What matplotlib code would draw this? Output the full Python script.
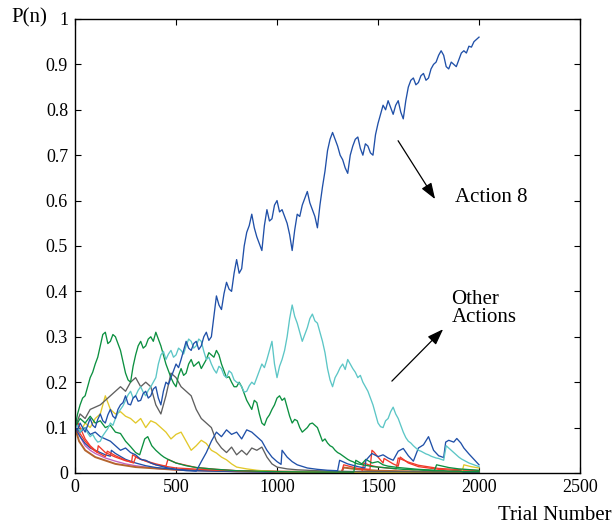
import matplotlib.pyplot as plt
import numpy as np

plt.rcParams['font.family'] = ['Liberation Serif', 'DejaVu Serif']

# trial grid for the long noisy curves (every 12.5 trials)
t_grid = np.arange(0, 2000.1, 12.5)

action8 = [0.10, 0.095, 0.11, 0.10, 0.09, 0.105, 0.12, 0.105, 0.10, 0.118,
           0.13, 0.115, 0.11, 0.128, 0.14, 0.125, 0.12, 0.14, 0.15, 0.155,
           0.17, 0.152, 0.15, 0.165, 0.17, 0.158, 0.16, 0.175, 0.18, 0.165,
           0.17, 0.185, 0.19, 0.165, 0.15, 0.18, 0.20, 0.195, 0.21, 0.225,
           0.24, 0.232, 0.25, 0.27, 0.29, 0.275, 0.27, 0.285, 0.29, 0.272,
           0.28, 0.30, 0.31, 0.292, 0.30, 0.345, 0.39, 0.37, 0.36, 0.395,
           0.42, 0.405, 0.40, 0.44, 0.47, 0.44, 0.45, 0.50, 0.53, 0.545,
           0.57, 0.54, 0.52, 0.505, 0.49, 0.545, 0.58, 0.555, 0.56, 0.59,
           0.60, 0.575, 0.58, 0.565, 0.55, 0.525, 0.49, 0.535, 0.57, 0.565,
           0.59, 0.605, 0.62, 0.595, 0.58, 0.565, 0.54, 0.59, 0.63, 0.665,
           0.71, 0.735, 0.75, 0.735, 0.72, 0.70, 0.69, 0.672, 0.66, 0.70,
           0.72, 0.735, 0.74, 0.715, 0.70, 0.725, 0.72, 0.705, 0.70, 0.745,
           0.77, 0.79, 0.81, 0.80, 0.82, 0.805, 0.79, 0.81, 0.82, 0.795,
           0.78, 0.82, 0.85, 0.865, 0.87, 0.855, 0.86, 0.875, 0.88, 0.865,
           0.87, 0.89, 0.90, 0.905, 0.92, 0.93, 0.92, 0.895, 0.89, 0.905,
           0.90, 0.895, 0.91, 0.925, 0.93, 0.925, 0.94, 0.938, 0.95, 0.955,
           0.96]

cyan = [0.10, 0.105, 0.09, 0.098, 0.10, 0.088, 0.08, 0.085, 0.075, 0.068,
        0.07, 0.082, 0.09, 0.098, 0.11, 0.105, 0.12, 0.132, 0.14, 0.148,
        0.16, 0.172, 0.18, 0.165, 0.17, 0.182, 0.19, 0.178, 0.17, 0.182,
        0.19, 0.20, 0.21, 0.24, 0.26, 0.268, 0.25, 0.262, 0.27, 0.255,
        0.26, 0.275, 0.27, 0.262, 0.28, 0.295, 0.29, 0.275, 0.28, 0.295,
        0.29, 0.268, 0.25, 0.255, 0.24, 0.228, 0.22, 0.235, 0.23, 0.215,
        0.21, 0.225, 0.22, 0.205, 0.20, 0.198, 0.19, 0.178, 0.18, 0.192,
        0.20, 0.195, 0.21, 0.225, 0.24, 0.232, 0.25, 0.27, 0.29, 0.24,
        0.21, 0.235, 0.25, 0.27, 0.30, 0.34, 0.37, 0.345, 0.33, 0.31,
        0.29, 0.305, 0.32, 0.34, 0.35, 0.335, 0.33, 0.31, 0.29, 0.265,
        0.23, 0.205, 0.19, 0.21, 0.22, 0.232, 0.24, 0.228, 0.25, 0.24,
        0.23, 0.222, 0.21, 0.215, 0.20, 0.19, 0.18, 0.165, 0.15, 0.13,
        0.11, 0.102, 0.10, 0.115, 0.12, 0.135, 0.145, 0.13, 0.12, 0.105,
        0.09, 0.078, 0.07, 0.066, 0.06, 0.055, 0.05, 0.048, 0.045, 0.042,
        0.04, 0.037, 0.035, 0.033, 0.032, 0.030, 0.028, 0.06, 0.055, 0.05,
        0.045, 0.04, 0.035, 0.031, 0.028, 0.025, 0.022, 0.02, 0.018, 0.016,
        0.014]

green_a = [0.10, 0.13, 0.15, 0.165, 0.17, 0.19, 0.21, 0.222, 0.24, 0.255,
           0.28, 0.305, 0.31, 0.285, 0.29, 0.305, 0.30, 0.285, 0.27, 0.245,
           0.22, 0.205, 0.20, 0.235, 0.26, 0.28, 0.29, 0.275, 0.28, 0.295,
           0.30, 0.29, 0.31, 0.295, 0.28, 0.26, 0.24, 0.225, 0.21, 0.198,
           0.19, 0.215, 0.23, 0.215, 0.22, 0.24, 0.25, 0.235, 0.24, 0.245,
           0.23, 0.24, 0.25, 0.265, 0.26, 0.255, 0.27, 0.26, 0.24, 0.225,
           0.21, 0.212, 0.20, 0.19, 0.19, 0.20, 0.19, 0.175, 0.16, 0.15,
           0.14, 0.16, 0.155, 0.13, 0.11, 0.105, 0.12, 0.128, 0.14, 0.15,
           0.165, 0.17, 0.16, 0.165, 0.145, 0.125, 0.11, 0.118, 0.115, 0.10,
           0.09, 0.095, 0.10, 0.108, 0.11, 0.105, 0.10, 0.085, 0.07, 0.075,
           0.066, 0.06, 0.057, 0.05, 0.045, 0.042, 0.038, 0.034, 0.03, 0.027,
           0.025, 0.022, 0.02, 0.019, 0.018, 0.017, 0.016, 0.015, 0.014, 0.0135,
           0.013, 0.0125, 0.012, 0.0115, 0.011, 0.0105, 0.01, 0.0095, 0.009, 0.0085,
           0.008, 0.008, 0.008, 0.0075, 0.007, 0.007, 0.007, 0.0065, 0.006, 0.006,
           0.006, 0.0055, 0.005, 0.005, 0.005, 0.005, 0.005, 0.0045, 0.004, 0.004,
           0.004, 0.004, 0.004, 0.0035, 0.003, 0.003, 0.003, 0.003, 0.003, 0.003,
           0.003]

gray_t = [0, 25, 50, 75, 100, 125, 150, 175, 200, 225, 250, 275, 300, 325,
          350, 375, 400, 425, 450, 475, 500, 525, 550, 575, 600, 625, 650,
          675, 700, 725, 750, 775, 800, 825, 850, 875, 900, 925, 950, 975,
          1000, 1050, 1100, 1200, 1300, 1400, 1600, 1800, 2000]
gray = [0.10, 0.13, 0.12, 0.14, 0.145, 0.15, 0.16, 0.17, 0.18, 0.19,
        0.18, 0.20, 0.21, 0.19, 0.20, 0.19, 0.15, 0.13, 0.17, 0.22,
        0.21, 0.19, 0.18, 0.17, 0.14, 0.12, 0.11, 0.10, 0.07, 0.055,
        0.045, 0.057, 0.04, 0.05, 0.04, 0.055, 0.05, 0.057, 0.035, 0.02,
        0.013, 0.009, 0.007, 0.005, 0.004, 0.003, 0.003, 0.002, 0.002]

yellow_t = [0, 25, 50, 75, 100, 125, 150, 175, 200, 225, 250, 275, 300, 325,
            350, 375, 400, 425, 450, 475, 500, 525, 550, 575, 600, 625, 650,
            675, 700, 725, 750, 775, 800, 850, 900, 950, 1000, 1200, 1500,
            1915, 1925, 1960, 2000]
yellow = [0.10, 0.09, 0.11, 0.10, 0.12, 0.13, 0.17, 0.14, 0.13, 0.135,
          0.125, 0.12, 0.11, 0.12, 0.10, 0.115, 0.11, 0.10, 0.09, 0.075,
          0.085, 0.09, 0.07, 0.05, 0.06, 0.072, 0.065, 0.05, 0.044, 0.035,
          0.029, 0.02, 0.013, 0.009, 0.006, 0.004, 0.003, 0.002, 0.001,
          0.001, 0.018, 0.014, 0.011]

blue2_t = [0, 25, 50, 75, 100, 125, 150, 175, 200, 225, 250, 275, 300, 325,
           350, 375, 400, 450, 500, 550, 600, 625, 650, 675, 700, 725, 750,
           775, 800, 825, 850, 875, 900, 925, 950, 975, 1000, 1020, 1025, 1050,
           1075, 1100, 1150, 1200, 1250, 1300, 1310, 1350, 1400, 1435, 1440,
           1470, 1500, 1525, 1550, 1575, 1600, 1625, 1650, 1675, 1700, 1725,
           1750, 1775, 1800, 1825, 1835, 1850, 1875, 1890, 1910, 1925, 1950,
           1975, 2000]
blue2 = [0.10, 0.09, 0.10, 0.085, 0.09, 0.08, 0.075, 0.07, 0.06, 0.05,
         0.055, 0.045, 0.04, 0.03, 0.028, 0.022, 0.018, 0.012, 0.008, 0.005,
         0.004, 0.025, 0.045, 0.07, 0.09, 0.08, 0.095, 0.085, 0.09, 0.075,
         0.095, 0.09, 0.08, 0.07, 0.05, 0.035, 0.025, 0.019, 0.05, 0.035,
         0.025, 0.018, 0.011, 0.008, 0.006, 0.005, 0.028, 0.02, 0.014, 0.011,
         0.028, 0.043, 0.036, 0.04, 0.033, 0.028, 0.048, 0.054, 0.038, 0.026,
         0.055, 0.062, 0.08, 0.05, 0.038, 0.034, 0.068, 0.072, 0.068, 0.076,
         0.066, 0.055, 0.042, 0.03, 0.018]

blue3_t = [0, 25, 50, 75, 100, 125, 150, 175, 180, 200, 250, 300, 350, 400,
           500, 600, 800, 1000, 1300, 1600, 2000]
blue3 = [0.10, 0.08, 0.065, 0.055, 0.05, 0.045, 0.04, 0.037, 0.05, 0.043,
         0.03, 0.022, 0.016, 0.012, 0.008, 0.005, 0.003, 0.002, 0.001, 0.001,
         0.001]

green_b_t = [0, 25, 50, 75, 100, 125, 150, 175, 200, 225, 250, 275, 300, 320,
             345, 360, 380, 400, 425, 440, 460, 500, 550, 600, 700, 800, 1000,
             1200, 1380, 1390, 1420, 1440, 1470, 1500, 1525, 1550, 1600, 1700,
             1780, 1790, 1850, 1900, 2000]
green_b = [0.10, 0.12, 0.11, 0.125, 0.11, 0.115, 0.10, 0.105, 0.09, 0.087,
           0.07, 0.058, 0.045, 0.04, 0.075, 0.08, 0.06, 0.05, 0.04, 0.035,
           0.03, 0.022, 0.016, 0.012, 0.008, 0.005, 0.003, 0.002, 0.002, 0.028,
           0.02, 0.03, 0.022, 0.025, 0.018, 0.015, 0.012, 0.008, 0.006, 0.018,
           0.012, 0.009, 0.006]

red_a_t = [0, 15, 30, 50, 75, 100, 110, 115, 150, 200, 250, 280, 285, 325,
           400, 450, 460, 500, 600, 700, 800, 1000, 1320, 1330, 1400, 1460,
           1470, 1480, 1500, 1525, 1530, 1575, 1600, 1610, 1650, 1700, 1800,
           1900, 2000]
red_a = [0.10, 0.11, 0.095, 0.075, 0.06, 0.05, 0.045, 0.06, 0.045, 0.035,
         0.027, 0.024, 0.04, 0.03, 0.02, 0.015, 0.03, 0.022, 0.012, 0.008,
         0.005, 0.003, 0.002, 0.018, 0.01, 0.008, 0.05, 0.046, 0.035, 0.022,
         0.032, 0.02, 0.015, 0.035, 0.022, 0.014, 0.008, 0.005, 0.003]

red_b_t = [0, 20, 50, 80, 100, 150, 160, 200, 250, 290, 300, 350, 400, 500,
           700, 1000, 1420, 1430, 1460, 1500, 1590, 1600, 1650, 1700, 1800,
           2000]
red_b = [0.10, 0.09, 0.07, 0.055, 0.048, 0.036, 0.048, 0.038, 0.028, 0.022,
         0.035, 0.026, 0.018, 0.011, 0.006, 0.003, 0.002, 0.022, 0.017, 0.013,
         0.009, 0.033, 0.024, 0.017, 0.01, 0.005]

magenta_t = [0, 25, 50, 75, 100, 150, 200, 250, 300, 400, 500, 700, 1000, 2000]
magenta = [0.10, 0.08, 0.06, 0.05, 0.043, 0.033, 0.026, 0.02, 0.016, 0.01,
           0.007, 0.004, 0.002, 0.001]

brown_t = [0, 20, 50, 100, 200, 300, 500, 800, 1320, 1330, 1400, 1500, 1600,
           1800, 2000]
brown = [0.10, 0.07, 0.05, 0.035, 0.02, 0.013, 0.007, 0.004, 0.002, 0.012,
         0.008, 0.005, 0.004, 0.003, 0.002]

fig = plt.figure(figsize=(6.15, 5.27), dpi=100)
ax = fig.add_axes([0.1220, 0.1025, 0.8211, 0.8615])

lw = 0.95
ax.plot(magenta_t, magenta, color='#c060c0', lw=lw)
ax.plot(brown_t, brown, color='#b5642e', lw=1.4)
ax.plot(blue3_t, blue3, color='#2050a8', lw=lw)
ax.plot(red_b_t, red_b, color='#f03a2a', lw=lw)
ax.plot(red_a_t, red_a, color='#f03a2a', lw=lw)
ax.plot(yellow_t, yellow, color='#e2c82a', lw=lw)
ax.plot(gray_t, gray, color='#5f5f5f', lw=lw)
ax.plot(green_b_t, green_b, color='#0c9040', lw=lw)
ax.plot(blue2_t, blue2, color='#2050a8', lw=lw)
ax.plot(t_grid, green_a, color='#0c9040', lw=lw)
ax.plot(t_grid, cyan, color='#5cc6c6', lw=lw)
ax.plot(t_grid, action8, color='#2050a8', lw=lw)

ax.set_xlim(0, 2500)
ax.set_ylim(0, 1)
ax.set_xticks([0, 500, 1000, 1500, 2000, 2500])
ax.set_yticks(np.arange(0, 1.01, 0.1))
ax.set_yticklabels(['0', '0.1', '0.2', '0.3', '0.4', '0.5', '0.6', '0.7',
                    '0.8', '0.9', '1'])
ax.tick_params(direction='in', length=4, top=True, right=True,
               labelsize=13, width=0.8)
ax.tick_params(axis='x', pad=4)
ax.tick_params(axis='y', pad=5)
for s in ax.spines.values():
    s.set_linewidth(1.0)

fig.text(29 / 615, 1 - 18 / 527, 'P(n)', fontsize=15, ha='center', va='center')
fig.text(612 / 615, 1 - 515 / 527, 'Trial Number', fontsize=15,
         ha='right', va='center')

arrow = dict(arrowstyle='-|>,head_length=0.7,head_width=0.25', color='black',
             lw=0.9, mutation_scale=14)
ax.annotate('', xy=(1790, 0.598), xytext=(1592, 0.737), arrowprops=arrow)
ax.text(1881, 0.607, 'Action 8', fontsize=15, ha='left', va='center')

ax.annotate('', xy=(1832, 0.321), xytext=(1559, 0.198), arrowprops=arrow)
ax.text(1864, 0.362, 'Other\nActions', fontsize=15, ha='left', va='center',
        linespacing=0.9)

fig.savefig('out.png', dpi=100)
